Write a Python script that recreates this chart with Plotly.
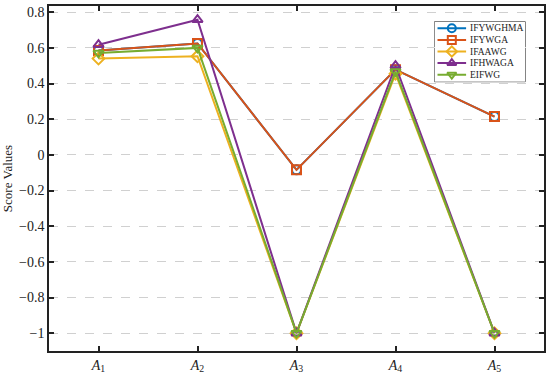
import plotly.graph_objects as go

categories = ["A1", "A2", "A3", "A4", "A5"]
tick_labels = ["<i>A</i><sub>1</sub>", "<i>A</i><sub>2</sub>", "<i>A</i><sub>3</sub>",
               "<i>A</i><sub>4</sub>", "<i>A</i><sub>5</sub>"]
x_pos = [1, 2, 3, 4, 5]

IFYWGHMA = [0.585, 0.625, -0.084, 0.478, 0.215]
IFYWGA = [0.585, 0.625, -0.084, 0.478, 0.215]
IFAAWG = [0.540, 0.553, -1.0, 0.455, -1.0]
IFHWAGA = [0.618, 0.758, -1.0, 0.500, -1.0]
EIFWG = [0.572, 0.600, -1.0, 0.467, -1.0]

y_tick_vals = [-1, -0.8, -0.6, -0.4, -0.2, 0, 0.2, 0.4, 0.6, 0.8]
y_tick_text = ["\u22121", "\u22120.8", "\u22120.6", "\u22120.4", "\u22120.2", "0", "0.2", "0.4", "0.6", "0.8"]

series_names = ["IFYWGHMA", "IFYWGA", "IFAAWG", "IFHWAGA", "EIFWG"]
series_values = [IFYWGHMA, IFYWGA, IFAAWG, IFHWAGA, EIFWG]
colors = ["#0072BD", "#D95319", "#EDB120", "#7E2F8E", "#77AC30"]
symbols = ["circle-open", "square-open", "diamond-open", "triangle-up-open", "triangle-down-open"]

font_family = "Liberation Serif, Times New Roman, serif"
ink = "#222"

fig = go.Figure()
for name, vals, color, sym in zip(series_names, series_values, colors, symbols):
    fig.add_trace(go.Scatter(
        x=x_pos, y=vals, name=name, mode="lines+markers",
        line=dict(color=color, width=2),
        marker=dict(symbol=sym, size=9, color=color, line=dict(width=2, color=color)),
        showlegend=False,
    ))

# Compact legend drawn on a small overlay axis (pixel-like units inside the box)
LW, LH = 92, 61
row0, row_step = 6.7, 11.8
for i, (name, color, sym) in enumerate(zip(series_names, colors, symbols)):
    yy = row0 + row_step * i
    fig.add_trace(go.Scatter(
        x=[3, 32], y=[yy, yy], xaxis="x2", yaxis="y2",
        mode="lines", line=dict(color=color, width=2),
        showlegend=False, hoverinfo="skip",
    ))
    fig.add_trace(go.Scatter(
        x=[17.5], y=[yy], xaxis="x2", yaxis="y2",
        mode="markers",
        marker=dict(symbol=sym, size=8, color=color, line=dict(width=2, color=color)),
        showlegend=False, hoverinfo="skip",
    ))
    fig.add_annotation(x=34, y=yy, xref="x2", yref="y2", text=name, showarrow=False,
                       xanchor="left", yanchor="middle",
                       font=dict(family=font_family, size=9.5, color=ink))

dom_x = [(434 - 43) / 502, (526 - 43) / 502]
dom_y = [(355 - 81) / 351, (355 - 20) / 351]
fig.add_shape(type="rect", xref="paper", yref="paper",
              x0=dom_x[0], x1=dom_x[1], y0=dom_y[0], y1=dom_y[1],
              fillcolor="white", line=dict(color=ink, width=1), layer="between")

fig.update_layout(
    width=550, height=378,
    margin=dict(l=43, r=5, t=4, b=23),
    paper_bgcolor="white", plot_bgcolor="white",
    font=dict(family=font_family, size=13, color=ink),
    showlegend=False,
    xaxis=dict(
        range=[0.5, 5.5], tickmode="array", tickvals=x_pos, ticktext=tick_labels,
        showgrid=False, zeroline=False,
        showline=True, linecolor=ink, linewidth=1.5, mirror="ticks",
        ticks="inside", ticklen=5, tickwidth=1.5, tickcolor=ink,
        tickfont=dict(size=14),
    ),
    yaxis=dict(
        range=[-1.1, 0.835], tickmode="array",
        tickvals=y_tick_vals, ticktext=y_tick_text,
        showgrid=True, gridcolor="#d0d0d0", griddash="dash", gridwidth=1,
        zeroline=False,
        showline=True, linecolor=ink, linewidth=1.5, mirror="ticks",
        ticks="inside", ticklen=5, tickwidth=1.5, tickcolor=ink,
        tickfont=dict(size=14),
        title=dict(text="Score Values", font=dict(size=13), standoff=6),
    ),
    xaxis2=dict(domain=dom_x, range=[0, LW], anchor="y2", visible=False, fixedrange=True),
    yaxis2=dict(domain=dom_y, range=[LH, 0], anchor="x2", visible=False, fixedrange=True),
)

fig.write_html("out.html", config={"displayModeBar": False},
               post_script="document.body.style.margin='0';")
